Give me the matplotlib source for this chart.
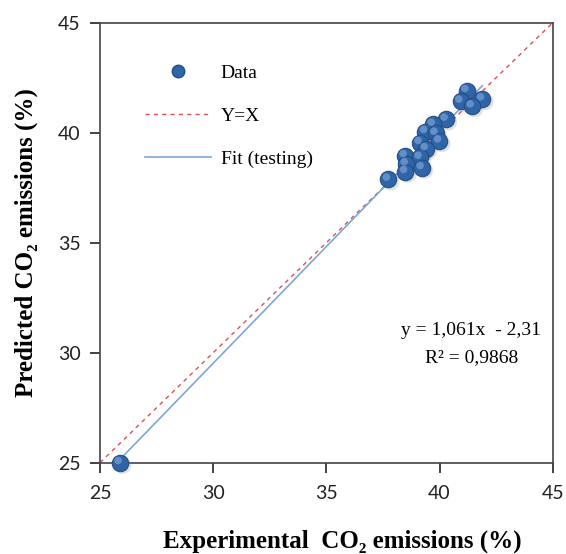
import matplotlib
matplotlib.use("Agg")
import matplotlib.pyplot as plt
from matplotlib.lines import Line2D
import numpy as np

plt.rcParams['font.family'] = ['Liberation Serif', 'DejaVu Serif']

exp_x = [41.20, 40.93, 41.89, 41.43, 40.28, 39.71, 39.37, 39.83, 39.99, 39.13,
         39.40, 38.47, 39.13, 38.52, 39.22, 38.49, 37.73, 25.88]
pred_y = [41.91, 41.43, 41.53, 41.21, 40.61, 40.38, 40.05, 39.97, 39.62, 39.55,
          39.27, 38.95, 38.88, 38.58, 38.41, 38.23, 37.88, 25.00]
slope = 1.061
intercept = -2.31
ticks = [25, 30, 35, 40, 45]

fig = plt.figure(figsize=(5.66, 5.54), dpi=100)
ax = fig.add_axes([0.1767, 0.1648, 0.7998, 0.7942])

ax.plot([25, 45], [25, 45], ls=(0, (3, 3)), color='#D9534F', lw=1.0, zorder=2)
xf = np.array([min(exp_x), max(exp_x)])
ax.plot(xf, slope * xf + intercept, color='#7EA6D8', lw=1.2, zorder=2)
# shadows
ax.scatter(np.array(exp_x) + 0.12, np.array(pred_y) - 0.12, s=150, color='#888888',
           alpha=0.25, edgecolors='none', zorder=3, clip_on=False)
ax.scatter(exp_x, pred_y, s=140, color='#2F64A6', edgecolors='#244F86', linewidths=0.8,
           zorder=4, clip_on=False)
ax.scatter(np.array(exp_x) - 0.08, np.array(pred_y) + 0.1, s=30, color='#6F9AD0',
           edgecolors='none', alpha=0.8, zorder=5, clip_on=False)

ax.set_xlim(25, 45)
ax.set_ylim(25, 45)
ax.set_xticks(ticks)
ax.set_yticks(ticks)
ax.tick_params(direction='out', length=7, width=1.2, colors='#222222')
ax.tick_params(axis='x', pad=9)
ax.tick_params(axis='y', pad=7)
for lab in ax.get_xticklabels() + ax.get_yticklabels():
    lab.set_family(['Lato', 'DejaVu Sans'])
    lab.set_fontsize(14)
for s in ax.spines.values():
    s.set_linewidth(1.2)
    s.set_color('#444444')

ax.set_xlabel('Experimental  CO₂ emissions (%)', fontsize=18, fontweight='bold', labelpad=20)
ax.xaxis.label.set_x(0.535)
ax.set_ylabel('Predicted CO₂ emissions (%)', fontsize=18, fontweight='bold', labelpad=14)

handles = [Line2D([], [], marker='o', ls='none', markersize=9, color='#2F64A6', markeredgecolor='#244F86'),
           Line2D([], [], ls=(0, (3, 3)), color='#D9534F', lw=1.0),
           Line2D([], [], color='#7EA6D8', lw=1.2)]
ax.legend(handles, ['Data', 'Y=X', 'Fit (testing)'], loc='upper left', bbox_to_anchor=(0.06, 0.945),
          frameon=False, fontsize=14, handlelength=3.4, labelspacing=1.3, handletextpad=0.5)

ax.text(0.82, 0.30, 'y = 1,061x  - 2,31', transform=ax.transAxes, ha='center', va='center', fontsize=14)
ax.text(0.82, 0.24, 'R² = 0,9868', transform=ax.transAxes, ha='center', va='center', fontsize=14)

fig.savefig('out.png', dpi=100)
